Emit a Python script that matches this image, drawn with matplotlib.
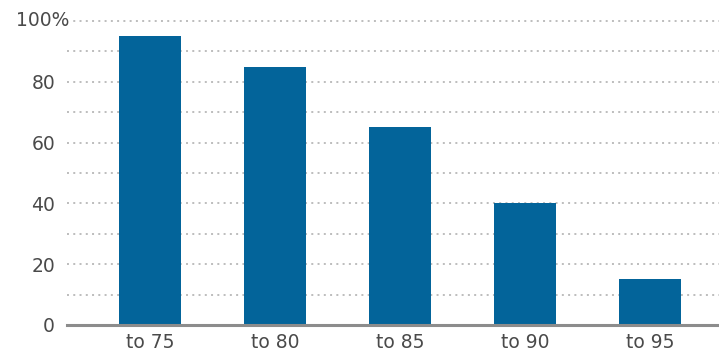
import matplotlib
matplotlib.use("Agg")
import matplotlib.pyplot as plt

# Share of cases reaching each age band
categories = ["to 75", "to 80", "to 85", "to 90", "to 95"]
shares = [95, 85, 65, 40, 15]
tick_values = [0, 20, 40, 60, 80]
grid_values = [10, 20, 30, 40, 50, 60, 70, 80, 90, 100]

BAR_COLOR = "#03649a"
GRID_COLOR = "#ababab"
TEXT_COLOR = "#4a4a4a"
FONT_SIZE = 13.5

plt.rcParams["font.family"] = ["DejaVu Sans"]

W, H = 719, 354
fig = plt.figure(figsize=(W / 100, H / 100), dpi=100)
ax = fig.add_axes([67 / W, 29 / H, 1 - 67 / W, (325 - 21) / H])

x = list(range(len(categories)))
ax.bar(x, shares, width=0.49, color=BAR_COLOR, zorder=3)

# dotted guides every 10 points, solid base line at zero
for g in grid_values:
    ax.axhline(g, color=GRID_COLOR, lw=1.1, ls=(0, (1.3, 2.8)), zorder=1, clip_on=False)
ax.axhline(0, color="#8c8c8c", lw=2.2, zorder=4, clip_on=False)

ax.set_xlim(-0.664, 4.552)
ax.set_ylim(0, 100)

ax.set_yticks(tick_values)
ax.set_yticklabels([str(v) for v in tick_values])
ax.set_xticks(x)
ax.set_xticklabels(categories)
ax.tick_params(axis="y", length=0, pad=8.6, labelsize=FONT_SIZE, labelcolor=TEXT_COLOR)
ax.tick_params(axis="x", length=0, pad=6, labelsize=FONT_SIZE, labelcolor=TEXT_COLOR)

ax.text(16 / W, 1 - 21 / H, "100%", transform=fig.transFigure, ha="left", va="center",
        fontsize=FONT_SIZE, color=TEXT_COLOR,
        bbox=dict(facecolor="white", edgecolor="none", pad=1.5), zorder=5)

for side in ["top", "right", "left", "bottom"]:
    ax.spines[side].set_visible(False)

fig.savefig("out.png", dpi=100)
